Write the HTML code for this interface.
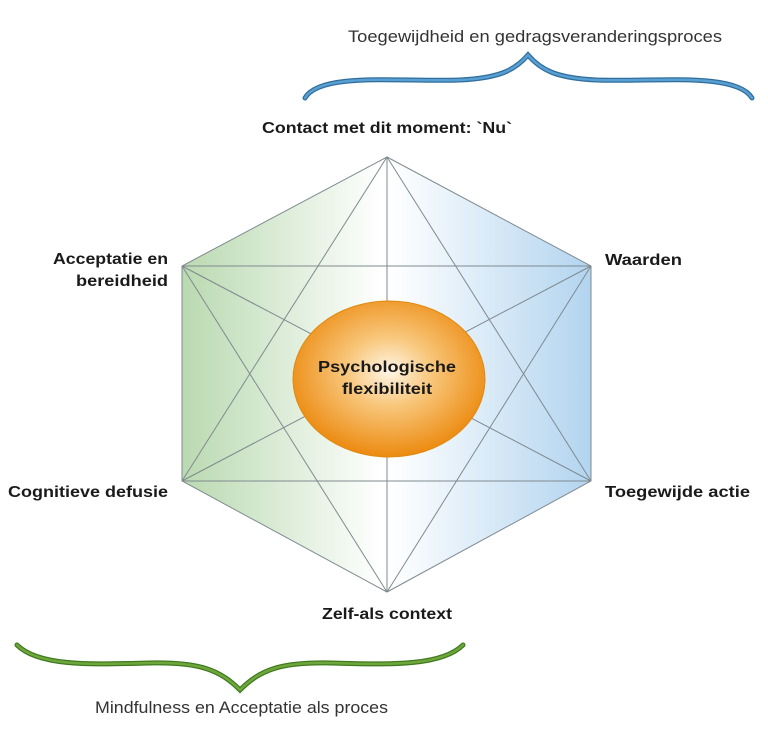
<!DOCTYPE html>
<html><head><meta charset="utf-8"><style>
html,body{margin:0;padding:0;background:#fff;}
svg{display:block;}
text{font-family:"Liberation Sans",sans-serif;fill:#1a1a1a;}
.b{font-weight:bold;font-size:16px;}
.r{font-size:16.5px;fill:#333;}
</style></head><body>
<svg width="768" height="742" viewBox="0 0 768 742" xmlns="http://www.w3.org/2000/svg">
<defs>
<linearGradient id="hg" x1="182" y1="0" x2="591" y2="0" gradientUnits="userSpaceOnUse">
<stop offset="0" stop-color="#b9d9b0"/>
<stop offset="0.49" stop-color="#ffffff"/>
<stop offset="0.51" stop-color="#ffffff"/>
<stop offset="1" stop-color="#b2d4ef"/>
</linearGradient>
<radialGradient id="eg" cx="0.5" cy="0.45" r="0.55">
<stop offset="0" stop-color="#fff6e6"/>
<stop offset="0.4" stop-color="#f8c77c"/>
<stop offset="1" stop-color="#ec8a10"/>
</radialGradient>
</defs>
<polygon points="387,157 591,266 591,481 387,592 182,481 182,266" fill="url(#hg)" stroke="#7f8a8f" stroke-width="1"/>
<g stroke="#7f8a8f" stroke-width="1" fill="none">
<line x1="182" y1="266" x2="591" y2="266"/>
<line x1="182" y1="481" x2="591" y2="481"/>
<line x1="387" y1="157" x2="387" y2="592"/>
<line x1="387" y1="157" x2="182" y2="481"/>
<line x1="387" y1="157" x2="591" y2="481"/>
<line x1="387" y1="592" x2="182" y2="266"/>
<line x1="387" y1="592" x2="591" y2="266"/>
<line x1="182" y1="266" x2="591" y2="481"/>
<line x1="591" y1="266" x2="182" y2="481"/>
</g>
<ellipse cx="389" cy="379" rx="96" ry="78" fill="url(#eg)" stroke="#e08a10" stroke-width="1"/>
<text class="b" x="318" y="372" textLength="138" lengthAdjust="spacingAndGlyphs">Psychologische</text>
<text class="b" x="342" y="394" textLength="90" lengthAdjust="spacingAndGlyphs">flexibiliteit</text>
<path d="M305,98 C320,72 400,82 460,80 C500,78 515,70 528,55 C541,70 556,78 596,80 C656,82 736,72 752,98" fill="none" stroke="#2f6e9e" stroke-width="5" stroke-linecap="round"/>
<path d="M305,98 C320,72 400,82 460,80 C500,78 515,70 528,55 C541,70 556,78 596,80 C656,82 736,72 752,98" fill="none" stroke="#5a9fd1" stroke-width="2.5" stroke-linecap="round"/>
<path d="M17,645 C40,668 100,664 150,663 C200,662 220,670 240,690 C260,670 280,662 330,663 C380,664 440,668 463,645" fill="none" stroke="#3e7a1e" stroke-width="5" stroke-linecap="round"/>
<path d="M17,645 C40,668 100,664 150,663 C200,662 220,670 240,690 C260,670 280,662 330,663 C380,664 440,668 463,645" fill="none" stroke="#6fa63c" stroke-width="2.5" stroke-linecap="round"/>
<text class="r" x="348" y="42" textLength="374" lengthAdjust="spacingAndGlyphs">Toegewijdheid en gedragsveranderingsproces</text>
<text class="r" x="95" y="713" textLength="293" lengthAdjust="spacingAndGlyphs">Mindfulness en Acceptatie als proces</text>
<text class="b" x="262" y="133" textLength="250" lengthAdjust="spacingAndGlyphs">Contact met dit moment: `Nu`</text>
<text class="b" x="53" y="264" textLength="115" lengthAdjust="spacingAndGlyphs">Acceptatie en</text>
<text class="b" x="76" y="286" textLength="92" lengthAdjust="spacingAndGlyphs">bereidheid</text>
<text class="b" x="8" y="497" textLength="160" lengthAdjust="spacingAndGlyphs">Cognitieve defusie</text>
<text class="b" x="605" y="265" textLength="77" lengthAdjust="spacingAndGlyphs">Waarden</text>
<text class="b" x="605" y="497" textLength="145" lengthAdjust="spacingAndGlyphs">Toegewijde actie</text>
<text class="b" x="322" y="619" textLength="130" lengthAdjust="spacingAndGlyphs">Zelf-als context</text>
</svg>
</body></html>
